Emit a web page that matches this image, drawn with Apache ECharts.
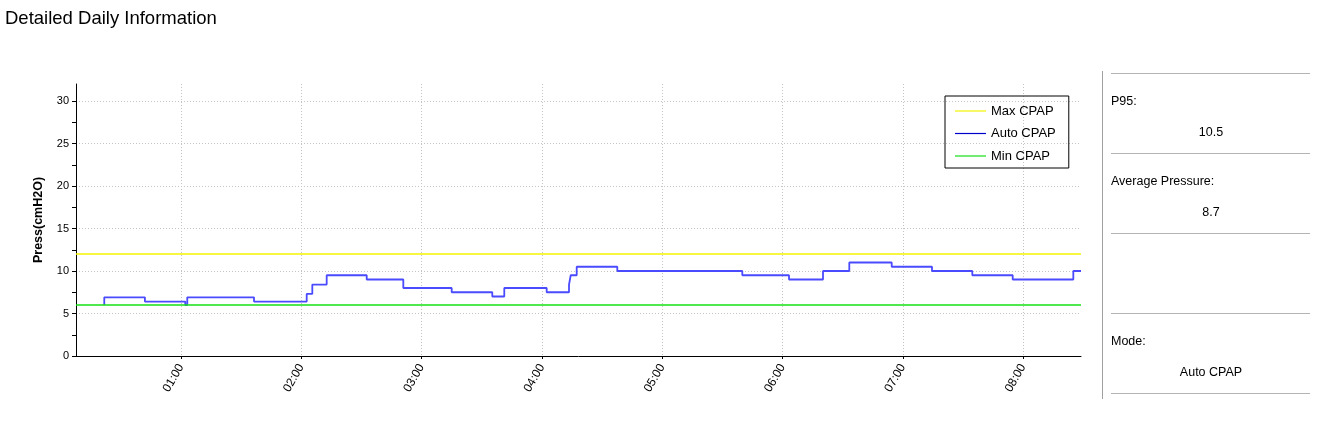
<!DOCTYPE html>
<html>
<head>
<meta charset="utf-8">
<title>Detailed Daily Information</title>
<script src="https://cdn.jsdelivr.net/npm/echarts@6.0.0/dist/echarts.min.js"></script>
<style>
html, body { margin: 0; padding: 0; background: #fff; }
#chart { width: 1320px; height: 428px; }
</style>
</head>
<body>
<div id="chart"></div>
<script>
// Auto CPAP: the time the pressure changed and the pressure from then on
var autoTimes = ['00:21:44', '00:21:44', '00:42:00', '01:02:08', '01:03:08', '01:36:25',
  '02:02:42', '02:05:30', '02:12:40', '02:32:38', '02:50:53', '03:15:01', '03:35:16',
  '03:41:15', '04:02:24', '04:13:32', '04:14:23', '04:17:22', '04:37:37', '05:39:58',
  '06:03:16', '06:20:13', '06:33:20', '06:54:29', '07:14:35', '07:34:41', '07:54:50',
  '08:25:04', '08:28:54']
var autoValues = [6.0, 6.9, 6.4, 6.0, 6.9, 6.4,
  7.3, 8.4, 9.5, 9.0, 8.0, 7.5, 7.0,
  8.0, 7.5, 8.4, 9.5, 10.5, 10.0, 9.5,
  9.0, 10.0, 11.0, 10.5, 10.0, 9.5, 9.0,
  10.0, 10.0]
var maxCpap = 12
var minCpap = 6
var axisRange = ['00:07:38', '08:28:54']
var hourLabels = ['01:00', '02:00', '03:00', '04:00', '05:00', '06:00', '07:00', '08:00']
var yLabels = [0, 5, 10, 15, 20, 25, 30]
var yTicks = [0, 2.5, 5, 7.5, 10, 12.5, 15, 17.5, 20, 22.5, 25, 27.5, 30]
var statNames = ['P95:', 'Average Pressure:', '', 'Mode:']
var statValues = ['10.5', '8.7', '', 'Auto CPAP']

var font = "'Liberation Sans', Arial, sans-serif"

function toMin(s) {
  var p = s.split(':')
  return +p[0] * 60 + +p[1] + (p[2] ? +p[2] / 60 : 0)
}
function fmtMin(m) {
  var h = Math.floor(m / 60)
  var mm = Math.round(m - h * 60)
  return (h < 10 ? '0' : '') + h + ':' + (mm < 10 ? '0' : '') + mm
}

var hourTicks = hourLabels.map(toMin)
var autoData = autoTimes.map(function (t, i) { return [toMin(t), autoValues[i]] })
var maxData = axisRange.map(function (t) { return [toMin(t), maxCpap] })
var minData = axisRange.map(function (t) { return [toMin(t), minCpap] })

// right hand panel
var graphics = [{
  type: 'line', shape: { x1: 1102.5, y1: 71, x2: 1102.5, y2: 399 },
  style: { stroke: '#a0a0a0', lineWidth: 1 }
}]
for (var i = 0; i <= statNames.length; i++) {
  var rowY = 73.5 + i * 80
  graphics.push({
    type: 'line', shape: { x1: 1111, y1: rowY, x2: 1310, y2: rowY },
    style: { stroke: '#b4b4b4', lineWidth: 1 }
  })
  if (i < statNames.length) {
    graphics.push({
      type: 'text', x: 1111, y: rowY + 28,
      style: { text: statNames[i], font: '12.5px ' + font, fill: '#000', verticalAlign: 'middle' }
    })
    graphics.push({
      type: 'text', x: 1211, y: rowY + 59,
      style: { text: statValues[i], font: '12.5px ' + font, fill: '#000', align: 'center', verticalAlign: 'middle' }
    })
  }
}

var myChart = echarts.init(document.getElementById('chart'))
var option = {
  animation: false,
  textStyle: { fontFamily: font },
  title: {
    text: 'Detailed Daily Information',
    left: 5,
    top: 9,
    padding: 0,
    textStyle: { fontSize: 18.5, fontWeight: 'normal', color: '#000', fontFamily: font }
  },
  legend: {
    orient: 'vertical',
    left: 945,
    top: 96,
    padding: [8, 13, 5, 10],
    borderColor: '#000',
    borderWidth: 1,
    icon: 'rect',
    itemWidth: 31,
    itemHeight: 1.2,
    itemGap: 8.5,
    textStyle: { fontSize: 13, lineHeight: 14, color: '#000', fontFamily: font },
    data: [
      { name: 'Max CPAP', itemStyle: { color: '#f4f400' } },
      { name: 'Auto CPAP', itemStyle: { color: '#0000cc' } },
      { name: 'Min CPAP', itemStyle: { color: '#14e014' } }
    ]
  },
  grid: { left: 76, right: 239, top: 84, bottom: 72 },
  xAxis: {
    type: 'value',
    min: toMin(axisRange[0]),
    max: toMin(axisRange[1]),
    axisLine: { lineStyle: { color: '#000', width: 1 } },
    axisTick: { customValues: hourTicks, length: 3, lineStyle: { color: '#000' } },
    axisLabel: {
      customValues: hourTicks,
      rotate: 60,
      margin: 9,
      fontSize: 12,
      color: '#000',
      formatter: function (v) { return fmtMin(v) }
    },
    splitLine: { show: true, lineStyle: { color: '#c4c4c4', type: [1, 2] } }
  },
  yAxis: [{
    type: 'value',
    position: 'left',
    min: 0,
    max: 32,
    name: 'Press(cmH2O)',
    nameLocation: 'middle',
    nameGap: 31,
    nameTextStyle: { fontSize: 12.5, fontWeight: 'bold', color: '#000', fontFamily: font },
    axisLine: { show: true, lineStyle: { color: '#000', width: 1 } },
    axisTick: { show: true, customValues: yTicks, length: 4, lineStyle: { color: '#000' } },
    axisLabel: { customValues: yLabels, fontSize: 11, color: '#000', margin: 7 },
    splitLine: { show: false }
  }, {
    type: 'value',
    position: 'left',
    min: 0,
    max: 32,
    axisLine: { show: false },
    axisTick: { show: false, customValues: yLabels },
    axisLabel: { show: false },
    splitLine: { show: true, lineStyle: { color: '#c4c4c4', type: [1, 2] } }
  }],
  series: [{
    name: 'Max CPAP',
    type: 'line',
    data: maxData,
    symbol: 'none',
    color: '#ffff00',
    lineStyle: { color: '#f4f400', width: 1.5 }
  }, {
    name: 'Auto CPAP',
    type: 'line',
    step: 'end',
    data: autoData,
    symbol: 'none',
    color: '#0000cc',
    lineStyle: { color: '#4a4aff', width: 1.8 }
  }, {
    name: 'Min CPAP',
    type: 'line',
    data: minData,
    symbol: 'none',
    color: '#00e000',
    lineStyle: { color: '#14e014', width: 1.5 }
  }],
  graphic: graphics
}
myChart.setOption(option)
myChart.resize()
</script>
</body>
</html>
